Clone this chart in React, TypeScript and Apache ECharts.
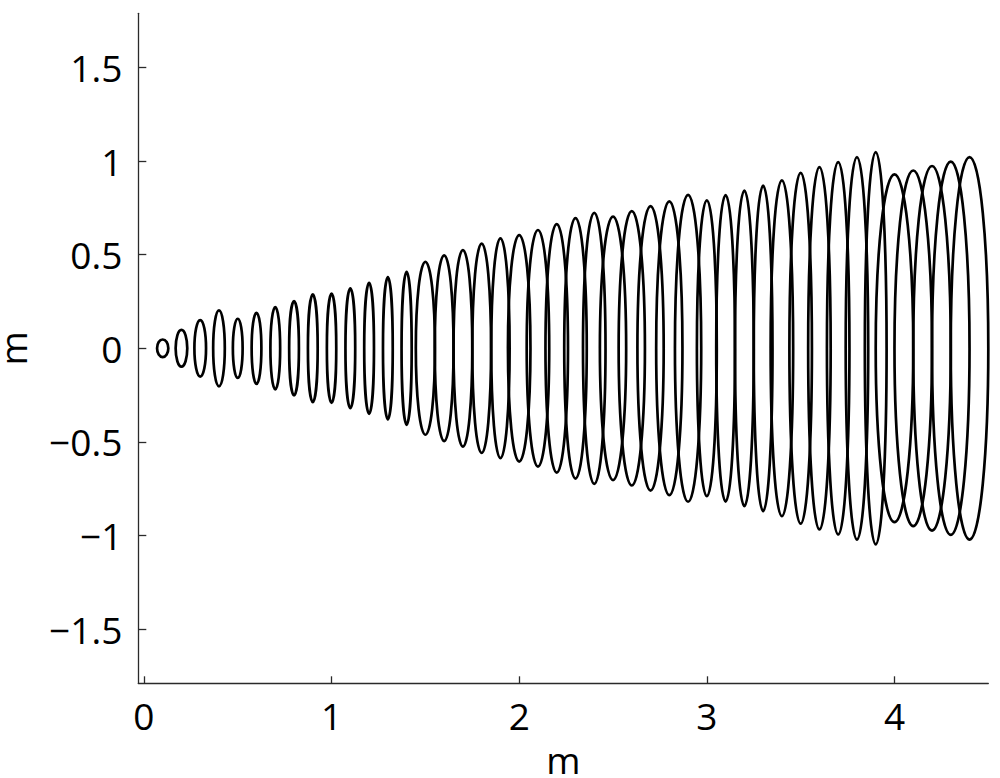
import React, { useEffect, useRef } from "react";
import * as echarts from "echarts";

// Ellipse centres along the x axis (m)
const centersX = [
  0.1, 0.2, 0.3, 0.4, 0.5, 0.6, 0.7, 0.8, 0.9, 1.0, 1.1,
  1.2, 1.3, 1.4, 1.5, 1.6, 1.7, 1.8, 1.9, 2.0, 2.1, 2.2,
  2.3, 2.4, 2.5, 2.6, 2.7, 2.8, 2.9, 3.0, 3.1, 3.2, 3.3,
  3.4, 3.5, 3.6, 3.7, 3.8, 3.9, 4.0, 4.1, 4.2, 4.3, 4.4,
];
// Ellipse centres along the y axis (m)
const centersY = [
  0, 0, 0, 0, 0, 0, 0, 0, 0, 0, 0,
  0, 0, 0, 0, 0, 0, 0, 0, 0, 0, 0,
  0, 0, 0, 0, 0, 0, 0, 0, 0, 0, 0,
  0, 0, 0, 0, 0, 0, 0, 0, 0, 0, 0,
];
// Half-widths (semi-axis along x, m)
const halfWidths = [
  0.03, 0.031, 0.031, 0.031, 0.026, 0.026, 0.026, 0.026, 0.026, 0.025, 0.026,
  0.026, 0.026, 0.027, 0.051, 0.05, 0.05, 0.05, 0.049, 0.06, 0.06, 0.06,
  0.06, 0.06, 0.07, 0.07, 0.07, 0.07, 0.07, 0.053, 0.05, 0.05, 0.05,
  0.06, 0.06, 0.06, 0.06, 0.06, 0.058, 0.1, 0.1, 0.1, 0.1, 0.1,
];
// Half-heights (semi-axis along y, m)
const halfHeights = [
  0.047, 0.098, 0.151, 0.203, 0.158, 0.19, 0.22, 0.252, 0.288, 0.292, 0.32,
  0.35, 0.38, 0.409, 0.462, 0.496, 0.525, 0.559, 0.587, 0.605, 0.632, 0.664,
  0.696, 0.724, 0.704, 0.733, 0.76, 0.785, 0.82, 0.79, 0.819, 0.843, 0.87,
  0.897, 0.937, 0.968, 0.995, 1.022, 1.048, 0.929, 0.95, 0.974, 0.997, 1.022,
];

const xTicks = [0, 1, 2, 3, 4];
const xTickLabels = ["0", "1", "2", "3", "4"];
const yTicks = [-1.5, -1, -0.5, 0, 0.5, 1, 1.5];
const yTickLabels = ["\u22121.5", "\u22121", "\u22120.5", "0", "0.5", "1", "1.5"];
const xAxisName = "m";
const yAxisName = "m";

function lookup(ticks: number[], labels: string[], v: number): string {
  const i = ticks.findIndex((t) => Math.abs(t - v) < 1e-9);
  return i >= 0 ? labels[i] : "";
}

export default function App() {
  const ref = useRef<HTMLDivElement>(null);

  useEffect(() => {
    if (!ref.current) return;
    const chart = echarts.init(ref.current, null, { renderer: "svg" });
    const data = centersX.map((x, i) => [x, centersY[i], halfWidths[i], halfHeights[i]]);
    const font = "'Open Sans', 'DejaVu Sans', sans-serif";
    const axisColor = "#2a2a2a";

    chart.setOption({
      animation: false,
      backgroundColor: "#ffffff",
      grid: {
        left: 138.3,
        right: 11.7,
        top: 13.3,
        bottom: 94.7,
        containLabel: false,
        outerBoundsMode: "none",
      },
      xAxis: {
        type: "value",
        min: -0.03,
        max: 4.5,
        name: xAxisName,
        nameLocation: "middle",
        nameGap: 65,
        nameTextStyle: { fontFamily: font, fontSize: 37, lineHeight: 22, color: "#000" },
        axisLine: { show: true, onZero: false, lineStyle: { color: axisColor, width: 1.3 } },
        axisTick: {
          show: true,
          inside: true,
          length: 7,
          customValues: xTicks,
          lineStyle: { color: axisColor, width: 1.3 },
        },
        axisLabel: {
          show: true,
          customValues: xTicks,
          margin: 14,
          fontFamily: font,
          fontSize: 37,
          color: "#000",
          formatter: (v: number) => lookup(xTicks, xTickLabels, v),
        },
        splitLine: { show: false },
      },
      yAxis: {
        type: "value",
        min: -1.79,
        max: 1.79,
        name: yAxisName,
        nameLocation: "middle",
        nameGap: 115,
        nameTextStyle: { fontFamily: font, fontSize: 37, lineHeight: 22, color: "#000" },
        axisLine: { show: true, onZero: false, lineStyle: { color: axisColor, width: 1.3 } },
        axisTick: {
          show: true,
          inside: true,
          length: 8,
          customValues: yTicks,
          lineStyle: { color: axisColor, width: 1.3 },
        },
        axisLabel: {
          show: true,
          customValues: yTicks,
          margin: 16,
          fontFamily: font,
          fontSize: 37,
          color: "#000",
          formatter: (v: number) => lookup(yTicks, yTickLabels, v),
        },
        splitLine: { show: false },
      },
      series: [
        {
          type: "custom",
          clip: false,
          data,
          renderItem: (params: any, api: any) => {
            const c = api.coord([api.value(0), api.value(1)]);
            const s = api.size([api.value(2), api.value(3)]);
            return {
              type: "ellipse",
              shape: { cx: c[0], cy: c[1], rx: s[0], ry: s[1] },
              style: { fill: "none", stroke: "#000", lineWidth: 2.7 },
            };
          },
        },
      ],
    });

    return () => {
      chart.dispose();
    };
  }, []);

  return (
    <div
      ref={ref}
      style={{ position: "fixed", left: 0, top: 0, width: 1000, height: 778, background: "#fff" }}
    />
  );
}
